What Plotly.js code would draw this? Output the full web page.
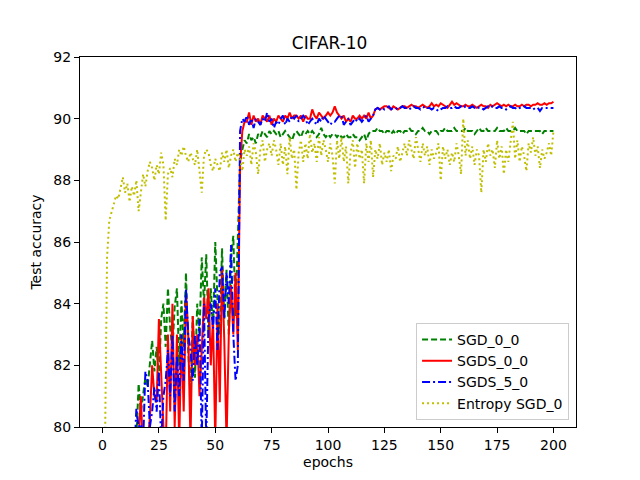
<!DOCTYPE html>
<html>
<head>
<meta charset="utf-8">
<script src="https://cdn.plot.ly/plotly-3.0.1.min.js"></script>
<style>body{margin:0;background:#fff}#plot{width:640px;height:480px}</style>
</head>
<body>
<div id="plot"></div>
<script>
// test accuracy per epoch, index = epoch (0..200); null = not shown
var sgd00 = [
  null, null, null, null, null, null, null, null, null, null,
  76.5, 77.2, 77.8, 78.3, 79.0, 79.6, 81.4, 80.5, 81.1, 81.6,
  81.3, 82.0, 82.8, 81.8, 82.6, 81.5, 83.5, 84.0, 82.6, 84.5,
  83.2, 82.5, 83.9, 84.5, 82.0, 84.1, 82.6, 85.0, 82.5, 81.0,
  83.6, 81.6, 84.0, 83.0, 85.5, 84.0, 85.6, 83.0, 84.5, 83.2,
  86.0, 84.1, 83.0, 85.8, 83.5, 85.1, 83.0, 85.5, 86.2, 83.6,
  86.0, 88.6, 89.0, 89.3, 89.2, 89.5, 89.3, 89.4, 89.2, 89.5,
  89.4, 89.6, 89.5, 89.4, 89.6, 89.5, 89.6, 89.5, 89.6, 89.4,
  89.5, 89.6, 89.5, 89.4, 89.3, 89.5, 89.6, 89.5, 89.4, 89.6,
  89.5, 89.6, 89.5, 89.6, 89.5, 89.4, 89.5, 89.7, 89.5, 89.4,
  89.5, 89.4, 89.5, 89.5, 89.4, 89.5, 89.4, 89.4, 89.5, 89.4,
  89.4, 89.5, 89.4, 89.4, 89.3, 89.4, 89.5, 89.3, 89.5, 89.6,
  89.6, 89.6, 89.7, 89.6, 89.6, 89.5, 89.6, 89.6, 89.5, 89.6,
  89.5, 89.6, 89.6, 89.5, 89.6, 89.6, 89.7, 89.6, 89.6, 89.5,
  89.6, 89.6, 89.7, 89.6, 89.6, 89.5, 89.6, 89.6, 89.6, 89.5,
  89.6, 89.6, 89.7, 89.6, 89.6, 89.6, 89.7, 89.6, 89.6, 89.6,
  89.6, 89.7, 89.6, 89.6, 89.6, 89.5, 89.6, 89.7, 89.6, 89.6,
  89.7, 89.6, 89.6, 89.6, 89.6, 89.7, 89.6, 89.6, 89.6, 89.7,
  89.6, 89.6, 89.6, 89.7, 89.6, 89.6, 89.6, 89.6, 89.5, 89.6,
  89.6, 89.6, 89.6, 89.6, 89.6, 89.5, 89.6, 89.6, 89.6, 89.6,
  89.6
];
var sgds00 = [
  null, null, null, null, null, null, null, null, null, null,
  76.0, 76.8, 77.3, 78.0, 78.6, 79.2, 79.6, 81.0, 79.0, 79.8,
  79.5, 80.3, 82.0, 81.0, 80.8, 83.5, 81.5, 80.0, 79.0, 83.0,
  80.5, 84.0, 80.0, 83.0, 79.5, 83.0, 80.5, 84.3, 83.0, 79.5,
  83.6, 82.0, 83.0, 81.0, 82.5, 84.2, 83.5, 84.5, 82.0, 83.5,
  79.5, 84.0, 80.8, 85.2, 82.8, 79.5, 83.0, 84.6, 83.0, 85.0,
  82.5, 88.5, 89.6, 89.9, 89.9, 90.2, 89.8, 90.1, 89.9, 90.0,
  89.8, 90.1, 90.0, 89.9, 90.1, 89.8, 90.0, 89.9, 90.1, 90.0,
  89.9, 90.1, 90.0, 90.2, 90.0, 90.1, 90.1, 90.0, 90.1, 89.9,
  90.1, 90.0, 90.0, 90.3, 90.1, 90.0, 90.2, 90.1, 90.0, 90.1,
  90.2, 90.1, 90.2, 90.4, 90.2, 90.1, 90.0, 90.1, 89.9, 90.0,
  89.9, 90.1, 90.0, 90.0, 90.1, 90.0, 90.1, 90.0, 90.2, 90.0,
  90.1, 90.3, 90.35, 90.3, 90.35, 90.4, 90.4, 90.35, 90.3, 90.4,
  90.35, 90.3, 90.35, 90.4, 90.4, 90.35, 90.4, 90.45, 90.4, 90.4,
  90.35, 90.4, 90.45, 90.4, 90.35, 90.4, 90.5, 90.4, 90.45, 90.4,
  90.5, 90.45, 90.4, 90.35, 90.45, 90.55, 90.45, 90.5, 90.45, 90.4,
  90.4, 90.45, 90.4, 90.4, 90.45, 90.4, 90.35, 90.4, 90.45, 90.4,
  90.4, 90.35, 90.45, 90.4, 90.45, 90.5, 90.45, 90.4, 90.45, 90.4,
  90.45, 90.4, 90.4, 90.45, 90.4, 90.4, 90.45, 90.4, 90.45, 90.45,
  90.4, 90.45, 90.45, 90.5, 90.45, 90.45, 90.5, 90.45, 90.5, 90.5,
  90.55
];
var sgds50 = [
  null, null, null, null, null, null, null, null, null, null,
  76.2, 77.0, 77.6, 78.2, 79.0, 80.6, 80.0, 80.1, 79.5, 81.8,
  81.5, 80.0, 80.5, 81.3, 80.5, 81.8, 79.5, 81.0, 81.5, 82.5,
  81.0, 83.0, 80.5, 82.3, 81.0, 83.0, 81.5, 84.5, 83.0, 82.5,
  81.5, 83.0, 82.0, 83.5, 79.5, 84.0, 79.5, 83.5, 84.0, 83.2,
  84.5, 82.5, 85.0, 85.2, 83.5, 85.0, 84.0, 85.9, 83.0, 81.5,
  82.0, 89.6, 90.0, 89.9, 90.1, 89.8, 90.0, 89.7, 90.0, 89.9,
  89.8, 90.0, 89.9, 90.2, 89.9, 90.0, 89.7, 89.9, 89.8, 90.0,
  90.1, 89.8, 90.0, 89.9, 90.1, 90.0, 90.1, 89.9, 90.0, 90.1,
  90.0, 89.8, 89.9, 90.0, 89.9, 89.8, 90.0, 89.9, 90.1, 90.0,
  89.9, 89.8, 89.9, 89.9, 90.0, 90.1, 90.1, 89.8, 89.9, 90.0,
  89.8, 89.9, 90.0, 89.9, 90.0, 89.9, 90.0, 90.1, 89.9, 90.0,
  90.1, 90.3, 90.35, 90.3, 90.35, 90.3, 90.35, 90.4, 90.3, 90.35,
  90.35, 90.3, 90.35, 90.4, 90.35, 90.35, 90.3, 90.35, 90.4, 90.35,
  90.35, 90.3, 90.35, 90.4, 90.35, 90.35, 90.3, 90.35, 90.3, 90.25,
  90.3, 90.35, 90.35, 90.4, 90.35, 90.35, 90.4, 90.35, 90.35, 90.4,
  90.35, 90.4, 90.35, 90.35, 90.4, 90.35, 90.4, 90.35, 90.35, 90.3,
  90.35, 90.4, 90.35, 90.4, 90.35, 90.35, 90.4, 90.35, 90.35, 90.3,
  90.35, 90.4, 90.35, 90.35, 90.3, 90.35, 90.35, 90.4, 90.35, 90.35,
  90.35, 90.3, 90.35, 90.35, 90.25, 90.35, 90.35, 90.35, 90.35, 90.35,
  90.35
];
var entropySgd0 = [
  72.0, 78.0, 85.5, 86.7, 87.0, 87.3, 87.5, 87.4, 87.8, 88.1,
  87.6, 87.9, 87.3, 87.8, 87.5, 88.0, 87.0, 87.6, 88.2, 87.8,
  88.3, 88.6, 88.4, 88.0, 88.5, 88.2, 88.9, 88.5, 86.7, 88.2,
  88.4, 88.1, 88.7, 88.5, 89.0, 88.8, 89.1, 88.8, 88.6, 88.9,
  88.7, 88.5, 89.0, 88.3, 87.6, 88.8, 89.0, 88.9, 88.5, 88.3,
  88.7, 88.5, 88.3, 88.9, 88.6, 89.0, 88.4, 88.8, 89.0, 88.6,
  88.9, 88.7, 88.3, 89.0, 88.8, 89.1, 88.5, 89.2, 88.9, 88.2,
  89.0, 89.3, 88.6, 89.0, 89.2, 88.8, 89.3, 89.0, 88.5, 89.2,
  88.5, 89.1, 88.2, 89.4, 88.7, 89.0, 87.7, 88.9, 89.3, 88.6,
  89.2, 88.7, 89.5, 88.9, 89.2, 88.6, 89.4, 88.8, 89.3, 89.0,
  88.6, 89.2, 88.8, 87.9, 89.3, 88.7, 89.4, 88.6, 89.1, 87.9,
  88.9, 89.3, 88.4, 89.2, 88.7, 89.0, 87.9, 89.2, 88.6, 89.3,
  88.1, 89.0, 88.7, 89.2, 88.5, 88.9, 88.6, 89.0, 88.3, 88.8,
  88.7, 89.1, 88.6, 88.9, 89.2, 88.8, 89.3, 89.0, 88.7, 89.4,
  89.0, 88.6, 89.2, 88.8, 89.1, 88.5, 89.0, 88.7, 88.9, 89.2,
  88.0, 89.1, 88.7, 89.0, 88.5, 88.9, 88.6, 89.2, 88.8, 88.2,
  90.0, 88.8, 89.3, 88.7, 89.1, 88.5, 89.0, 88.8, 87.6, 89.0,
  88.6, 89.2, 88.8, 89.0, 88.4, 89.3, 88.7, 89.1, 88.2, 89.0,
  88.6, 89.2, 89.9, 88.7, 89.3, 88.6, 89.1, 88.8, 88.3, 89.2,
  88.9, 89.4, 88.8, 89.1, 88.4, 89.0, 88.7, 88.9, 89.2, 88.8,
  89.6
];
var seriesNames = ["SGD_0_0", "SGDS_0_0", "SGDS_5_0", "Entropy SGD_0"];

var epochs = [];
for (var i = 0; i < sgd00.length; i++) epochs.push(i);

function line(y, name, color, dash) {
  return {
    x: epochs, y: y, name: name, type: "scatter", mode: "lines",
    line: { color: color, width: 2, dash: dash }
  };
}

var data = [
  line(sgd00, seriesNames[0], "#008000", "6px,3px"),
  line(sgds00, seriesNames[1], "#ff0000", "solid"),
  line(sgds50, seriesNames[2], "#0000ff", "8px,3px,2px,3px"),
  line(entropySgd0, seriesNames[3], "#bfbf00", "2px,3px")
];

var axisStyle = {
  showline: true, linecolor: "#000", linewidth: 1, mirror: true,
  ticks: "outside", ticklen: 5, tickcolor: "#000", tickwidth: 1,
  showgrid: false, zeroline: false,
  tickfont: { family: "DejaVu Sans", size: 14, color: "#000" }
};

var layout = {
  width: 640, height: 480,
  margin: { l: 80, r: 64, t: 57, b: 53 },
  paper_bgcolor: "#fff", plot_bgcolor: "#fff",
  font: { family: "DejaVu Sans", color: "#000" },
  title: { text: "CIFAR-10", font: { size: 17 }, x: 0.515, xanchor: "center", y: 0.91, yanchor: "middle" },
  xaxis: Object.assign({}, axisStyle, {
    range: [-10, 210], tickvals: [0, 25, 50, 75, 100, 125, 150, 175, 200],
    title: { text: "epochs", font: { size: 14 }, standoff: 5 }
  }),
  yaxis: Object.assign({}, axisStyle, {
    range: [80, 92], tickvals: [80, 82, 84, 86, 88, 90, 92],
    title: { text: "Test accuracy", font: { size: 14 }, standoff: 8 }
  }),
  showlegend: true,
  legend: {
    x: 0.986, y: 0.019, xanchor: "right", yanchor: "bottom",
    bgcolor: "rgba(255,255,255,0.8)", bordercolor: "#cccccc", borderwidth: 1,
    font: { size: 14 }, itemwidth: 30
  }
};

Plotly.newPlot("plot", data, layout, { staticPlot: true });
</script>
</body>
</html>
